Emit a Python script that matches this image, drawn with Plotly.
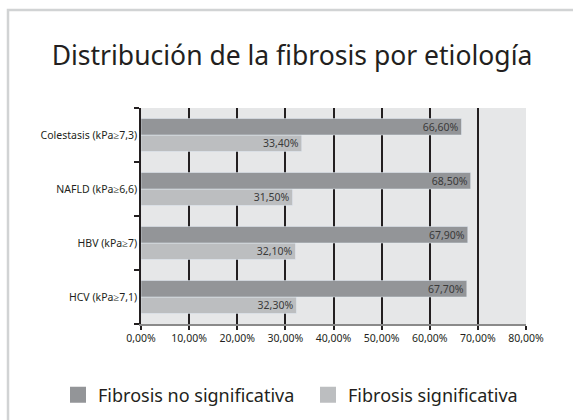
import plotly.graph_objects as go

categories = ["HCV (kPa≥7,1)", "HBV (kPa≥7)", "NAFLD (kPa≥6,6)", "Colestasis (kPa≥7,3)"]
no_significativa = [67.7, 67.9, 68.5, 66.6]
significativa = [32.3, 32.1, 31.5, 33.4]
series_names = ["Fibrosis no significativa", "Fibrosis significativa"]
x_ticks = [0, 10, 20, 30, 40, 50, 60, 70, 80]
x_tick_labels = ["0,00%", "10,00%", "20,00%", "30,00%", "40,00%", "50,00%", "60,00%", "70,00%", "80,00%"]

DARK = "#939598"
LIGHT = "#bcbec0"
FONT = "Noto Sans"

W, H = 573, 420
L, R, T, B = 141, 47, 108, 96
PW, PH = W - L - R, H - T - B

def px_x(p):
    return (p - L) / PW

def px_y(p):
    return (H - B - p) / PH

fig = go.Figure()
# light trace first so it sits below the dark one inside each group
fig.add_trace(go.Bar(
    y=categories, x=significativa, orientation="h", name=series_names[1],
    marker_color=LIGHT, showlegend=False,
    texttemplate="%{x:.2f}%", textposition="inside", insidetextanchor="end",
    constraintext="none", cliponaxis=False,
    textfont=dict(family=FONT, size=10.5, color="#3a3a3a"), textangle=0,
))
fig.add_trace(go.Bar(
    y=categories, x=no_significativa, orientation="h", name=series_names[0],
    marker_color=DARK, showlegend=False,
    texttemplate="%{x:.2f}%", textposition="inside", insidetextanchor="end",
    constraintext="none", cliponaxis=False,
    textfont=dict(family=FONT, size=10.5, color="#3a3a3a"), textangle=0,
))
# legend entries, one legend box each so they sit on one row
for name, col, lg in zip(series_names, [DARK, LIGHT], ["legend", "legend2"]):
    fig.add_trace(go.Scatter(
        x=[None], y=[None], mode="markers", name=name, legend=lg,
        marker=dict(symbol="square", size=18, color=col),
    ))

legend_common = dict(orientation="h", xref="container", yref="container",
                     xanchor="left", y=1 - 395 / H, yanchor="middle",
                     font=dict(family=FONT, size=18, color="#231f20"),
                     bgcolor="rgba(0,0,0,0)", itemwidth=30)

fig.update_layout(
    width=W, height=H,
    margin=dict(l=L, r=R, t=T, b=B),
    paper_bgcolor="white", plot_bgcolor="#e6e7e8",
    barmode="group", bargap=0.39, bargroupgap=0,
    separators=",.",
    font=dict(family=FONT, color="#231f20"),
    title=dict(text="Distribución de la fibrosis por etiología",
               font=dict(family=FONT, size=26.5, color="#231f20"),
               x=292 / W, xanchor="center", y=1 - 56 / H, yanchor="middle"),
    legend=dict(x=58 / W, **legend_common),
    legend2=dict(x=308 / W, **legend_common),
    xaxis=dict(range=[0, 80], tickvals=x_ticks, ticktext=x_tick_labels,
               showgrid=True, gridcolor="#231f20", gridwidth=1.5,
               showline=True, linecolor="#8a8a8a", linewidth=1.5,
               ticks="outside", ticklen=4, tickcolor="#231f20", tickwidth=1.5,
               tickfont=dict(family=FONT, size=10.5, color="#231f20"),
               zeroline=False, fixedrange=True),
    yaxis=dict(categoryorder="array", categoryarray=categories,
               showline=True, linecolor="#231f20", linewidth=1.5,
               ticks="outside", tickson="boundaries", ticklen=5,
               tickcolor="#231f20", tickwidth=1.5, showgrid=False,
               tickfont=dict(family=FONT, size=10.5, color="#231f20"),
               fixedrange=True),
    shapes=[dict(type="rect", xref="paper", yref="paper",
                 x0=px_x(8), x1=px_x(W + 20), y0=px_y(H + 20), y1=px_y(10),
                 line=dict(color="#d1d3d4", width=2.5), fillcolor="rgba(0,0,0,0)",
                 layer="below")],
)

fig.write_html("out.html", config={"displayModeBar": False},
               post_script="document.body.style.margin='0px';")
